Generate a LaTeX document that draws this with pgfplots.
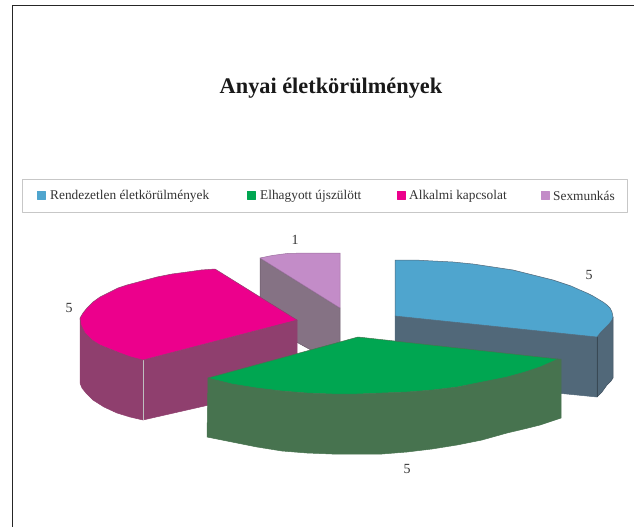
\documentclass[border=0pt]{standalone}
\usepackage{fontspec}
\setmainfont{Liberation Serif}
\usepackage{pgfplots}
\pgfplotsset{compat=1.18}
\definecolor{cblue}{HTML}{4FA5CE}
\definecolor{cblueside}{HTML}{516879}
\definecolor{cgreen}{HTML}{00A651}
\definecolor{cgreenside}{HTML}{47734F}
\definecolor{cpink}{HTML}{EC008C}
\definecolor{cpinkside}{HTML}{8F3F6E}
\definecolor{cpurple}{HTML}{C38CC8}
\definecolor{cpurpleside}{HTML}{857284}
\begin{document}
\begin{tikzpicture}
\path[use as bounding box] (0,0) rectangle (634bp,527bp);
\begin{axis}[
  at={(0,0)}, anchor=south west,
  scale only axis, width=634bp, height=527bp,
  xmin=0, xmax=634, ymin=0, ymax=527, y dir=reverse,
  hide axis, clip=false,
  every axis plot/.append style={line width=0.5pt, line join=round},
]
% frame, legend box
\addplot[black!85, line width=1.2pt] coordinates {(12.5,527) (12.5,5.5) (634,5.5)};
\addplot[black!22, fill=white, line width=0.9pt] coordinates {(22,179) (627,179) (627,212) (22,212)} -- cycle;
% legend swatches
\addplot[cblue, fill=cblue] coordinates {(37,191) (45,191) (45,199) (37,199)} -- cycle;
\addplot[cgreen, fill=cgreen] coordinates {(247,191) (255,191) (255,199) (247,199)} -- cycle;
\addplot[cpink, fill=cpink] coordinates {(397,191) (405,191) (405,199) (397,199)} -- cycle;
\addplot[cpurple, fill=cpurple] coordinates {(541,191) (549,191) (549,199) (541,199)} -- cycle;
% sexmunkas slice
\addplot[cpurpleside!80!black, fill=cpurpleside] coordinates {(260,258) (340,308) (340,366) (260,322)} -- cycle;
\addplot[cpurple!80!black, fill=cpurple] coordinates {(260,258) (272,255.5) (287,253.5) (305,253) (340,253) (340,308)} -- cycle;
% rendezetlen slice
\addplot[cblueside, fill=cblueside] coordinates {(395,316) (597,337) (597,397) (395,377)} -- cycle;
\addplot[cblueside!80!black, fill=cblueside] coordinates {(597,337) (601,332) (605,328) (609,324) (612,320) (613,317) (613,378) (611,381) (607,385) (602,392) (597,397)} -- cycle;
\addplot[cblueside!70!black, line width=0.4pt] coordinates {(597,337) (597,397)};
\addplot[cblueside, fill=cblue] coordinates {(395,260) (415,260) (433,261) (453,262) (473,264) (493,267) (513,270) (533,275) (553,280) (571,286) (580,290) (587,293) (593,296) (598,299) (603,302) (607,305) (610,308) (612,312) (613,317) (612,320) (609,324) (605,328) (601,332) (597,337) (395,316)} -- cycle;
% alkalmi slice
\addplot[cpinkside, fill=cpinkside] coordinates {(143,360) (297,320) (297,385) (143,420)} -- cycle;
\addplot[cpinkside, fill=cpinkside] coordinates {(80,318) (82,327) (85,333) (92,340) (100,345) (120,353) (143,360) (143,420) (130,417) (117,413) (104,407) (93,400) (86,393) (82,388) (80,383)} -- cycle;
\addplot[black!25, line width=0.8pt] coordinates {(143,360) (143,420)};
\addplot[cpinkside, fill=cpink] coordinates {(215,269) (201,270) (187,272) (172,274) (157,277) (142,281) (127,285) (118,288) (110,292) (100,297) (93,302) (87,308) (83,313) (80,318) (81,325) (82,327) (85,333) (92,340) (100,345) (110,349) (120,353) (131,357) (143,360) (297,320)} -- cycle;
% elhagyott slice
\addplot[cgreenside, fill=cgreenside] coordinates {(208,378) (232,384) (257,388) (282,391) (307,393) (332,394) (357,394) (382,393) (407,392) (432,390) (457,387) (482,382) (507,377) (525,372) (540,367) (558,359) (561,359) (561,418) (552,421) (540,425) (524,429) (507,433) (482,440) (457,445) (432,449) (407,452) (382,454) (357,454) (332,454) (307,453) (282,451) (257,447) (232,442) (207,437)} -- cycle;
\addplot[cgreenside, fill=cgreen] coordinates {(358,337) (558,359) (549,363) (540,367) (525,372) (507,377) (482,382) (457,387) (432,390) (407,392) (382,393) (357,394) (332,394) (307,393) (282,391) (257,388) (232,384) (208,378)} -- cycle;
% text
\node[font=\fontsize{22.4}{24}\selectfont\bfseries, text=black!90] at (axis cs:331,88) {Anyai életkörülmények};
\node[anchor=west, inner sep=0pt, text=black!80, font=\fontsize{13.4}{15}\selectfont] at (axis cs:50,196) {Rendezetlen életkörülmények};
\node[anchor=west, inner sep=0pt, text=black!80, font=\fontsize{13.4}{15}\selectfont] at (axis cs:260,196) {Elhagyott újszülött};
\node[anchor=west, inner sep=0pt, text=black!80, font=\fontsize{13.4}{15}\selectfont] at (axis cs:409,196) {Alkalmi kapcsolat};
\node[anchor=west, inner sep=0pt, text=black!80, font=\fontsize{13.4}{15}\selectfont] at (axis cs:553,196) {Sexmunkás};
\node[text=black!80, font=\fontsize{14}{15}\selectfont] at (axis cs:295,240) {1};
\node[text=black!80, font=\fontsize{14}{15}\selectfont] at (axis cs:589,275) {5};
\node[text=black!80, font=\fontsize{14}{15}\selectfont] at (axis cs:69,308) {5};
\node[text=black!80, font=\fontsize{14}{15}\selectfont] at (axis cs:407,469) {5};
\end{axis}
\end{tikzpicture}
\end{document}
